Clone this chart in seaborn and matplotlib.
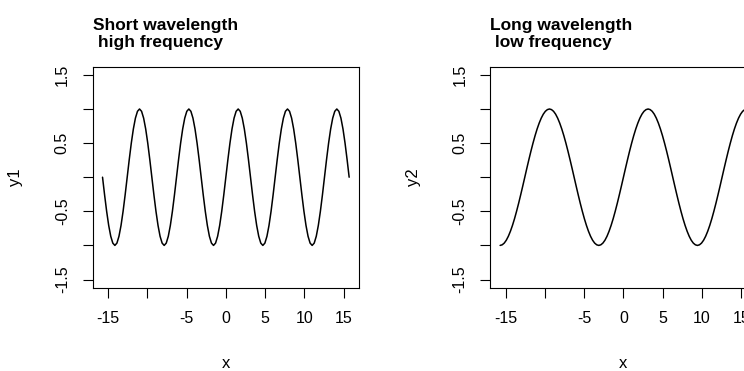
import matplotlib.pyplot as plt
import seaborn as sns

# x values (from -5*pi to 5*pi)
x = [-15.708, -15.446, -15.184, -14.923, -14.661, -14.399, -14.137, -13.875,
     -13.614, -13.352, -13.090, -12.828, -12.566, -12.305, -12.043, -11.781,
     -11.519, -11.257, -10.996, -10.734, -10.472, -10.210, -9.948, -9.687,
     -9.425, -9.163, -8.901, -8.639, -8.378, -8.116, -7.854, -7.592,
     -7.330, -7.069, -6.807, -6.545, -6.283, -6.021, -5.760, -5.498,
     -5.236, -4.974, -4.712, -4.451, -4.189, -3.927, -3.665, -3.403,
     -3.142, -2.880, -2.618, -2.356, -2.094, -1.833, -1.571, -1.309,
     -1.047, -0.785, -0.524, -0.262, 0.0,
     0.262, 0.524, 0.785, 1.047, 1.309, 1.571, 1.833, 2.094,
     2.356, 2.618, 2.880, 3.142, 3.403, 3.665, 3.927, 4.189,
     4.451, 4.712, 4.974, 5.236, 5.498, 5.760, 6.021, 6.283,
     6.545, 6.807, 7.069, 7.330, 7.592, 7.854, 8.116, 8.378,
     8.639, 8.901, 9.163, 9.425, 9.687, 9.948, 10.210, 10.472,
     10.734, 10.996, 11.257, 11.519, 11.781, 12.043, 12.305, 12.566,
     12.828, 13.090, 13.352, 13.614, 13.875, 14.137, 14.399, 14.661,
     14.923, 15.184, 15.446, 15.708]

# short wavelength / high frequency
y1 = [0, -0.259, -0.5, -0.707, -0.866, -0.966, -1, -0.966, -0.866, -0.707, -0.5, -0.259,
      0, 0.259, 0.5, 0.707, 0.866, 0.966, 1, 0.966, 0.866, 0.707, 0.5, 0.259,
      0, -0.259, -0.5, -0.707, -0.866, -0.966, -1, -0.966, -0.866, -0.707, -0.5, -0.259,
      0, 0.259, 0.5, 0.707, 0.866, 0.966, 1, 0.966, 0.866, 0.707, 0.5, 0.259,
      0, -0.259, -0.5, -0.707, -0.866, -0.966, -1, -0.966, -0.866, -0.707, -0.5, -0.259,
      0, 0.259, 0.5, 0.707, 0.866, 0.966, 1, 0.966, 0.866, 0.707, 0.5, 0.259,
      0, -0.259, -0.5, -0.707, -0.866, -0.966, -1, -0.966, -0.866, -0.707, -0.5, -0.259,
      0, 0.259, 0.5, 0.707, 0.866, 0.966, 1, 0.966, 0.866, 0.707, 0.5, 0.259,
      0, -0.259, -0.5, -0.707, -0.866, -0.966, -1, -0.966, -0.866, -0.707, -0.5, -0.259,
      0, 0.259, 0.5, 0.707, 0.866, 0.966, 1, 0.966, 0.866, 0.707, 0.5, 0.259,
      0]

# long wavelength / low frequency
y2 = [-1, -0.991, -0.966, -0.924, -0.866, -0.793, -0.707, -0.609, -0.5, -0.383, -0.259, -0.131,
      0, 0.131, 0.259, 0.383, 0.5, 0.609, 0.707, 0.793, 0.866, 0.924, 0.966, 0.991,
      1, 0.991, 0.966, 0.924, 0.866, 0.793, 0.707, 0.609, 0.5, 0.383, 0.259, 0.131,
      0, -0.131, -0.259, -0.383, -0.5, -0.609, -0.707, -0.793, -0.866, -0.924, -0.966, -0.991,
      -1, -0.991, -0.966, -0.924, -0.866, -0.793, -0.707, -0.609, -0.5, -0.383, -0.259, -0.131,
      0, 0.131, 0.259, 0.383, 0.5, 0.609, 0.707, 0.793, 0.866, 0.924, 0.966, 0.991,
      1, 0.991, 0.966, 0.924, 0.866, 0.793, 0.707, 0.609, 0.5, 0.383, 0.259, 0.131,
      0, -0.131, -0.259, -0.383, -0.5, -0.609, -0.707, -0.793, -0.866, -0.924, -0.966, -0.991,
      -1, -0.991, -0.966, -0.924, -0.866, -0.793, -0.707, -0.609, -0.5, -0.383, -0.259, -0.131,
      0, 0.131, 0.259, 0.383, 0.5, 0.609, 0.707, 0.793, 0.866, 0.924, 0.966, 0.991,
      1]

xticks = [-15, -10, -5, 0, 5, 10, 15]
xticklabels = ["-15", "", "-5", "0", "5", "10", "15"]
yticks = [-1.5, -1, -0.5, 0, 0.5, 1, 1.5]
yticklabels = ["-1.5", "", "-0.5", "", "0.5", "", "1.5"]

sns.set_style("ticks")
plt.rcParams['font.family'] = ['Liberation Sans', 'DejaVu Sans']
plt.rcParams['text.color'] = 'black'
plt.rcParams['axes.labelcolor'] = 'black'

fig = plt.figure(figsize=(7.44, 3.71), dpi=100)
ax1 = fig.add_axes([0.1246, 0.2245, 0.3579, 0.5957])
ax2 = fig.add_axes([0.659, 0.2245, 0.3579, 0.5957])

panels = [(ax1, y1, "y1", "Short wavelength\n high frequency"),
          (ax2, y2, "y2", "Long wavelength\n low frequency")]

for ax, y, ylab, title in panels:
    sns.lineplot(x=x, y=y, ax=ax, color="black", linewidth=1.1)
    ax.set_xlim(-16.96, 16.96)
    ax.set_ylim(-1.62, 1.62)
    ax.set_xticks(xticks)
    ax.set_xticklabels(xticklabels)
    ax.set_yticks(yticks)
    ax.set_yticklabels(yticklabels, rotation=90, va="center")
    ax.tick_params(axis="both", length=7.5, width=0.8, labelsize=11.5, colors="black")
    ax.tick_params(axis="x", pad=9)
    ax.tick_params(axis="y", pad=9)
    for s in ax.spines.values():
        s.set_visible(True)
        s.set_linewidth(0.8)
        s.set_color("black")
    ax.set_xlabel("x", fontsize=12)
    ax.xaxis.set_label_coords(0.5, -0.31)
    ax.set_ylabel(ylab, fontsize=12)
    ax.yaxis.set_label_coords(-0.262, 0.5)
    ax.set_title(title, loc="left", fontweight="bold", fontsize=12.5, pad=14,
                 color="black")

fig.savefig("out.png", dpi=100)
